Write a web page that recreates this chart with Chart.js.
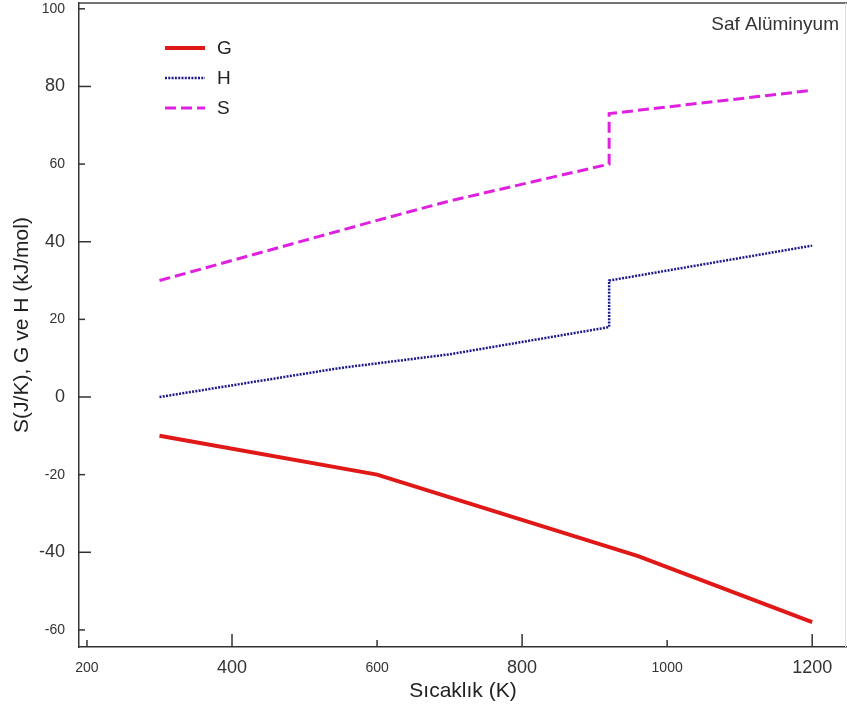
<!DOCTYPE html>
<html>
<head>
<meta charset="utf-8">
<script src="https://cdn.jsdelivr.net/npm/chart.js@4.4.1/dist/chart.umd.min.js"></script>
<style>
  body { margin: 0; background: #fff; }
</style>
</head>
<body>
<canvas id="chart" width="847" height="708"></canvas>
<script>
// values
var gTemps = [300, 600, 960, 1200];
var gValues = [-10, -20, -41, -58];

var hTemps = [300, 550, 700, 920, 920, 1200];
var hValues = [0, 7.5, 11, 18, 30, 39];

var sTemps = [300, 600, 700, 920, 920, 1200];
var sValues = [30, 45.5, 50.5, 60, 73, 79];

var xTicks = [200, 400, 600, 800, 1000, 1200];
var yTicks = [-60, -40, -20, 0, 20, 40, 60, 80, 100];

function toPoints(xs, ys) {
  return xs.map(function (x, i) { return { x: x, y: ys[i] }; });
}

var font = "'Liberation Sans', Arial, sans-serif";

// legend + inside ticks + frame line, drawn by hand
var decor = {
  id: 'decor',
  afterDraw: function (chart) {
    var c = chart.ctx, a = chart.chartArea;
    var xs = chart.scales.x, ys = chart.scales.y;
    c.save();
    c.strokeStyle = '#444';
    c.lineWidth = 1.5;
    c.beginPath();
    c.moveTo(a.left, 3);
    c.lineTo(a.right, 3);
    c.stroke();
    c.strokeStyle = '#ddd';
    c.lineWidth = 1;
    c.beginPath();
    c.moveTo(845.5, 3);
    c.lineTo(845.5, a.bottom);
    c.stroke();

    c.strokeStyle = '#333';
    c.lineWidth = 1.5;
    yTicks.forEach(function (v) {
      var p = ys.getPixelForValue(v);
      var len = v % 40 === 0 ? 12 : 6;
      c.beginPath();
      c.moveTo(a.left, p);
      c.lineTo(a.left + len, p);
      c.stroke();
    });
    xTicks.forEach(function (v) {
      var p = xs.getPixelForValue(v);
      var len = v % 400 === 0 ? 13 : 7;
      c.beginPath();
      c.moveTo(p, a.bottom);
      c.lineTo(p, a.bottom - len);
      c.stroke();
    });

    chart.data.datasets.forEach(function (ds, i) {
      var y = 48 + i * 30;
      c.strokeStyle = ds.borderColor;
      c.lineWidth = ds.borderWidth;
      c.setLineDash(ds.borderDash || []);
      c.beginPath();
      c.moveTo(165, y);
      c.lineTo(205, y);
      c.stroke();
      c.setLineDash([]);
      c.fillStyle = '#222';
      c.font = '19px ' + font;
      c.textBaseline = 'middle';
      c.textAlign = 'left';
      c.fillText(ds.label, 217, y + 1);
    });

    c.fillStyle = '#333';
    c.font = '19px ' + font;
    c.textAlign = 'right';
    c.textBaseline = 'middle';
    c.fillText('Saf Alüminyum', 839, 25);
    c.restore();
  }
};

new Chart(document.getElementById('chart'), {
  type: 'line',
  data: {
    datasets: [
      {
        label: 'G',
        data: toPoints(gTemps, gValues),
        borderColor: '#e01818',
        borderWidth: 4,
        pointRadius: 0
      },
      {
        label: 'H',
        data: toPoints(hTemps, hValues),
        borderColor: '#1a1a8c',
        borderWidth: 2.5,
        borderDash: [2, 1.3],
        pointRadius: 0
      },
      {
        label: 'S',
        data: toPoints(sTemps, sValues),
        borderColor: '#e020e0',
        borderWidth: 3,
        borderDash: [11, 5],
        pointRadius: 0
      }
    ]
  },
  options: {
    responsive: false,
    animation: false,
    layout: { autoPadding: false, padding: { top: 3, left: 0, right: 0, bottom: 0 } },
    plugins: {
      legend: { display: false },
      tooltip: { enabled: false }
    },
    scales: {
      x: {
        type: 'linear',
        min: 189,
        max: 1248,
        grid: { display: false, drawTicks: false },
        border: { display: true, color: '#333', width: 1.5 },
        ticks: {
          stepSize: 200,
          includeBounds: false,
          padding: 11,
          color: '#333',
          callback: function (v) { return String(v); },
          font: function (ctx) {
            var big = ctx.tick && ctx.tick.value % 400 === 0;
            return { family: font, size: big ? 18 : 14, lineHeight: '20px' };
          }
        },
        title: {
          display: true,
          text: 'Sıcaklık (K)',
          color: '#222',
          font: { family: font, size: 21 },
          padding: { top: 0, bottom: 4 }
        },
        afterFit: function (s) { s.height = 61; s.paddingLeft = 0; s.paddingRight = 0; }
      },
      y: {
        min: -64.4,
        max: 101.5,
        grid: { display: false, drawTicks: false },
        border: { display: true, color: '#333', width: 1.5 },
        ticks: {
          stepSize: 20,
          includeBounds: false,
          padding: 14,
          color: '#333',
          callback: function (v) { return String(v); },
          font: function (ctx) {
            var big = ctx.tick && ctx.tick.value % 40 === 0;
            return { family: font, size: big ? 18 : 14 };
          }
        },
        title: {
          display: true,
          text: 'S(J/K), G ve H (kJ/mol)',
          color: '#222',
          font: { family: font, size: 21 },
          padding: { top: 10, bottom: 0 }
        },
        afterFit: function (s) { s.width = 79; s.paddingTop = 0; s.paddingBottom = 0; }
      }
    }
  },
  plugins: [decor]
});
</script>
</body>
</html>
